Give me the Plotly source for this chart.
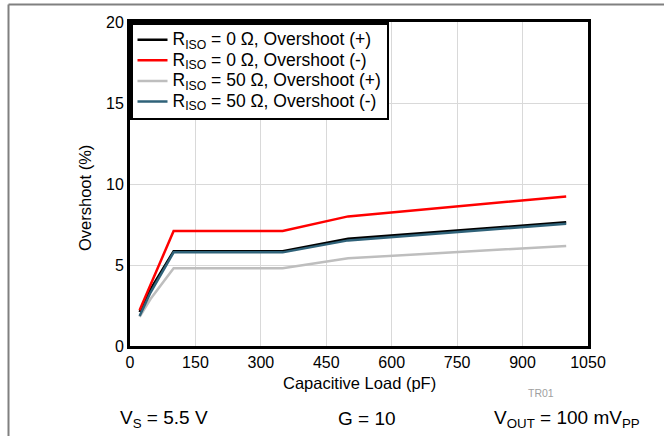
import plotly.graph_objects as go

cap_load = [22, 47, 100, 350, 500, 1000]
r0_pos = [2.1, 3.5, 5.85, 5.85, 6.62, 7.64]
r0_neg = [2.2, 3.76, 7.1, 7.1, 8.0, 9.23]
r50_pos = [1.8, 2.9, 4.8, 4.8, 5.41, 6.18]
r50_neg = [1.85, 3.3, 5.78, 5.78, 6.52, 7.54]

names = [
    "R<sub>ISO</sub> = 0 Ω, Overshoot (+)",
    "R<sub>ISO</sub> = 0 Ω, Overshoot (-)",
    "R<sub>ISO</sub> = 50 Ω, Overshoot (+)",
    "R<sub>ISO</sub> = 50 Ω, Overshoot (-)",
]
series = [r0_pos, r0_neg, r50_pos, r50_neg]
colors = ["#000000", "#FF0000", "#BEBEBE", "#2F6279"]

fig = go.Figure()
for i in range(4):
    fig.add_trace(go.Scatter(x=cap_load, y=series[i], mode="lines",
                             name='<span style="font-size:17.5px">' + names[i] + "</span>",
                             line=dict(color=colors[i], width=2.5)))

font_family = "Liberation Sans, Arial, sans-serif"
L, R, T, B = 130, 588, 22, 346
W, H = 665, 436
pw, ph = R - L, B - T

def px(x):
    return (x - L) / pw

def py(y):
    return (B - y) / ph

fig.update_layout(
    width=W, height=H,
    margin=dict(l=L, r=W - R, t=T, b=H - B, autoexpand=False),
    paper_bgcolor="white", plot_bgcolor="white",
    font=dict(family=font_family, size=16, color="black"),
    showlegend=True,
    legend=dict(x=0, y=1, xanchor="left", yanchor="top",
                bgcolor="white", bordercolor="black", borderwidth=2.5,
                font=dict(size=13.5), tracegroupgap=0, itemwidth=30),
    xaxis=dict(range=[0, 1050], tickmode="linear", tick0=0, dtick=150,
               showgrid=True, gridcolor="#D9D9D9", gridwidth=1,
               showline=True, linecolor="black", linewidth=3, mirror=True,
               ticks="", zeroline=False, automargin=False,
               tickfont=dict(size=16)),
    yaxis=dict(range=[0, 20], tickmode="linear", tick0=0, dtick=5,
               showgrid=True, gridcolor="#D9D9D9", gridwidth=1,
               showline=True, linecolor="black", linewidth=3, mirror=True,
               ticks="", zeroline=False, automargin=False,
               tickfont=dict(size=16)),
    shapes=[
        dict(type="line", xref="paper", yref="paper",
             x0=px(8.5), x1=px(664), y0=py(4.5), y1=py(4.5),
             line=dict(color="#808080", width=2)),
        dict(type="line", xref="paper", yref="paper",
             x0=px(8.5), x1=px(8.5), y0=py(4.5), y1=py(437),
             line=dict(color="#808080", width=2)),
    ],
    annotations=[
        dict(text="Capacitive Load (pF)", xref="paper", yref="paper",
             x=px(359), y=py(383), xanchor="center", yanchor="middle",
             showarrow=False, font=dict(size=16.5)),
        dict(text="Overshoot (%)", xref="paper", yref="paper",
             x=px(85), y=py(198), xanchor="center", yanchor="middle",
             textangle=-90, showarrow=False, font=dict(size=16.5)),
        dict(text="TR01", xref="paper", yref="paper", x=px(541), y=py(393),
             xanchor="center", yanchor="middle",
             showarrow=False, font=dict(size=10.5, color="#A0A0A0")),
        dict(text="V<sub>S</sub> = 5.5 V", xref="paper", yref="paper",
             x=px(164), y=py(419), xanchor="center", yanchor="middle",
             showarrow=False, font=dict(size=19)),
        dict(text="G = 10", xref="paper", yref="paper",
             x=px(367), y=py(419), xanchor="center", yanchor="middle",
             showarrow=False, font=dict(size=19)),
        dict(text="V<sub>OUT</sub> = 100 mV<sub>PP</sub>", xref="paper", yref="paper",
             x=px(567), y=py(419), xanchor="center", yanchor="middle",
             showarrow=False, font=dict(size=19)),
    ],
)

fig.write_html("out.html", config={"displayModeBar": False},
               post_script="document.body.style.margin='0px';")
